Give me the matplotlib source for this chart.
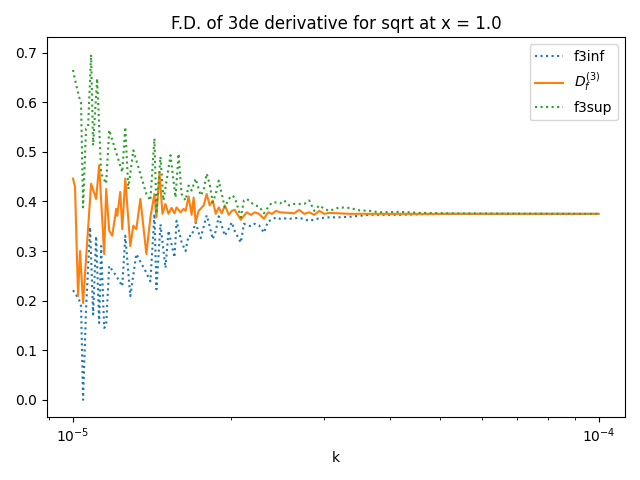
import numpy as np
import matplotlib
matplotlib.use("Agg")
import matplotlib.pyplot as plt

# k values are given in units of 1e-5
k_inf = [1.0, 1.01329, 1.02677, 1.03585, 1.04501, 1.0589, 1.07771, 1.09204,
         1.10656, 1.12127, 1.13119, 1.14623, 1.15637, 1.17174, 1.20841, 1.24075,
         1.25725, 1.28523, 1.31963, 1.37296, 1.40352, 1.42845, 1.44109, 1.46669,
         1.49933, 1.51926, 1.55993, 1.57372, 1.60874, 1.63732, 1.65909, 1.68114,
         1.71101, 1.73376, 1.74909, 1.7959, 1.81978, 1.84397, 1.86849, 1.89333,
         1.94401, 1.97854, 2.00485, 2.0315, 2.08587, 2.1136, 2.1417, 2.17975,
         2.21847, 2.25789, 2.30814, 2.34914, 2.39087, 2.43334, 2.47657, 2.52057,
         2.57666, 2.69262, 2.8138, 2.94043, 3.07276, 3.21103, 3.35556, 3.6644,
         4.18199, 4.56703, 5.21164, 10.0]
f3inf = [0.221, 0.212, 0.202, 0.189, 0.000, 0.185, 0.348, 0.172,
         0.330, 0.155, 0.310, 0.145, 0.150, 0.270, 0.250, 0.229,
         0.331, 0.209, 0.294, 0.260, 0.239, 0.375, 0.223, 0.354,
         0.266, 0.341, 0.287, 0.361, 0.318, 0.300, 0.331, 0.330,
         0.358, 0.337, 0.326, 0.372, 0.350, 0.324, 0.340, 0.370,
         0.331, 0.345, 0.358, 0.340, 0.317, 0.355, 0.352, 0.350,
         0.355, 0.352, 0.337, 0.360, 0.363, 0.368, 0.365, 0.366,
         0.365, 0.367, 0.361, 0.366, 0.368, 0.368, 0.369, 0.373,
         0.373, 0.374, 0.375, 0.375]

k_df = [1.0, 1.00884, 1.02226, 1.0313, 1.04501, 1.08246, 1.10656, 1.12127,
        1.14623, 1.15637, 1.17174, 1.18732, 1.20841, 1.21374, 1.22988, 1.24075,
        1.25725, 1.28523, 1.30231, 1.31963, 1.34307, 1.37902, 1.40352, 1.42845,
        1.44109, 1.46025, 1.47966, 1.49933, 1.51926, 1.53946, 1.55993, 1.57372,
        1.60168, 1.62297, 1.63732, 1.65909, 1.68114, 1.69601, 1.71101, 1.73376,
        1.77234, 1.7959, 1.81978, 1.84397, 1.86849, 1.89333, 1.9185, 1.94401,
        1.97854, 2.00485, 2.0315, 2.08587, 2.1136, 2.1417, 2.17975, 2.21847,
        2.25789, 2.30814, 2.34914, 2.39087, 2.43334, 2.47657, 2.57666, 2.634,
        2.69262, 2.75254, 2.8138, 2.87642, 2.94043, 3.00587, 3.07276, 3.21103,
        3.35556, 10.0]
df_vals = [0.446, 0.429, 0.209, 0.300, 0.195, 0.436, 0.405, 0.473,
           0.294, 0.425, 0.341, 0.331, 0.385, 0.371, 0.419, 0.344,
           0.446, 0.310, 0.351, 0.344, 0.405, 0.294, 0.368, 0.415,
           0.368, 0.459, 0.375, 0.395, 0.375, 0.387, 0.376, 0.388,
           0.378, 0.385, 0.381, 0.410, 0.373, 0.408, 0.358, 0.381,
           0.392, 0.415, 0.392, 0.402, 0.375, 0.388, 0.376, 0.392,
           0.373, 0.381, 0.383, 0.363, 0.371, 0.378, 0.373, 0.378,
           0.375, 0.365, 0.378, 0.375, 0.381, 0.378, 0.377, 0.376,
           0.383, 0.375, 0.378, 0.373, 0.381, 0.375, 0.377, 0.376,
           0.375, 0.375]

k_sup = [1.0, 1.00884, 1.02677, 1.03585, 1.04501, 1.0589, 1.06826, 1.08246,
         1.09204, 1.11144, 1.13119, 1.15637, 1.17174, 1.24075, 1.25725, 1.27396,
         1.30231, 1.37902, 1.40352, 1.42845, 1.44109, 1.46669, 1.48619, 1.5327,
         1.56681, 1.58764, 1.60874, 1.63732, 1.65909, 1.68114, 1.71101, 1.74909,
         1.77234, 1.7959, 1.81978, 1.84397, 1.86849, 1.89333, 1.9185, 1.94401,
         1.97854, 2.00485, 2.0315, 2.08587, 2.1136, 2.1417, 2.17975, 2.21847,
         2.25789, 2.30814, 2.34914, 2.39087, 2.43334, 2.47657, 2.52057, 2.57666,
         2.634, 2.69262, 2.75254, 2.8138, 2.87642, 2.94043, 3.00587, 3.07276,
         3.21103, 3.35556, 3.5066, 3.6644, 3.82935, 4.18199, 4.56703, 5.21164,
         10.0]
f3sup = [0.665, 0.645, 0.611, 0.598, 0.388, 0.547, 0.550, 0.696,
         0.513, 0.648, 0.456, 0.436, 0.544, 0.459, 0.550, 0.425,
         0.503, 0.415, 0.402, 0.527, 0.375, 0.490, 0.402, 0.493,
         0.408, 0.496, 0.415, 0.402, 0.432, 0.422, 0.446, 0.412,
         0.422, 0.456, 0.435, 0.398, 0.415, 0.442, 0.415, 0.388,
         0.405, 0.412, 0.408, 0.368, 0.402, 0.405, 0.398, 0.392,
         0.390, 0.376, 0.388, 0.398, 0.398, 0.396, 0.402, 0.392,
         0.395, 0.395, 0.395, 0.402, 0.381, 0.392, 0.385, 0.381,
         0.388, 0.387, 0.382, 0.381, 0.378, 0.379, 0.377, 0.376,
         0.375]

k_inf = np.array(k_inf) * 1e-5
k_df = np.array(k_df) * 1e-5
k_sup = np.array(k_sup) * 1e-5

fig, ax = plt.subplots(figsize=(6.4, 4.8), dpi=100)
ax.plot(k_inf, f3inf, ':', label='f3inf')
ax.plot(k_df, df_vals, label=r'$D_f^{(3)}$')
ax.plot(k_sup, f3sup, ':', label='f3sup')
ax.set_xscale('log')
ax.set_xlabel('k')
ax.set_title('F.D. of 3de derivative for sqrt at x = 1.0')
ax.legend()
fig.tight_layout()
fig.savefig('out.png')
